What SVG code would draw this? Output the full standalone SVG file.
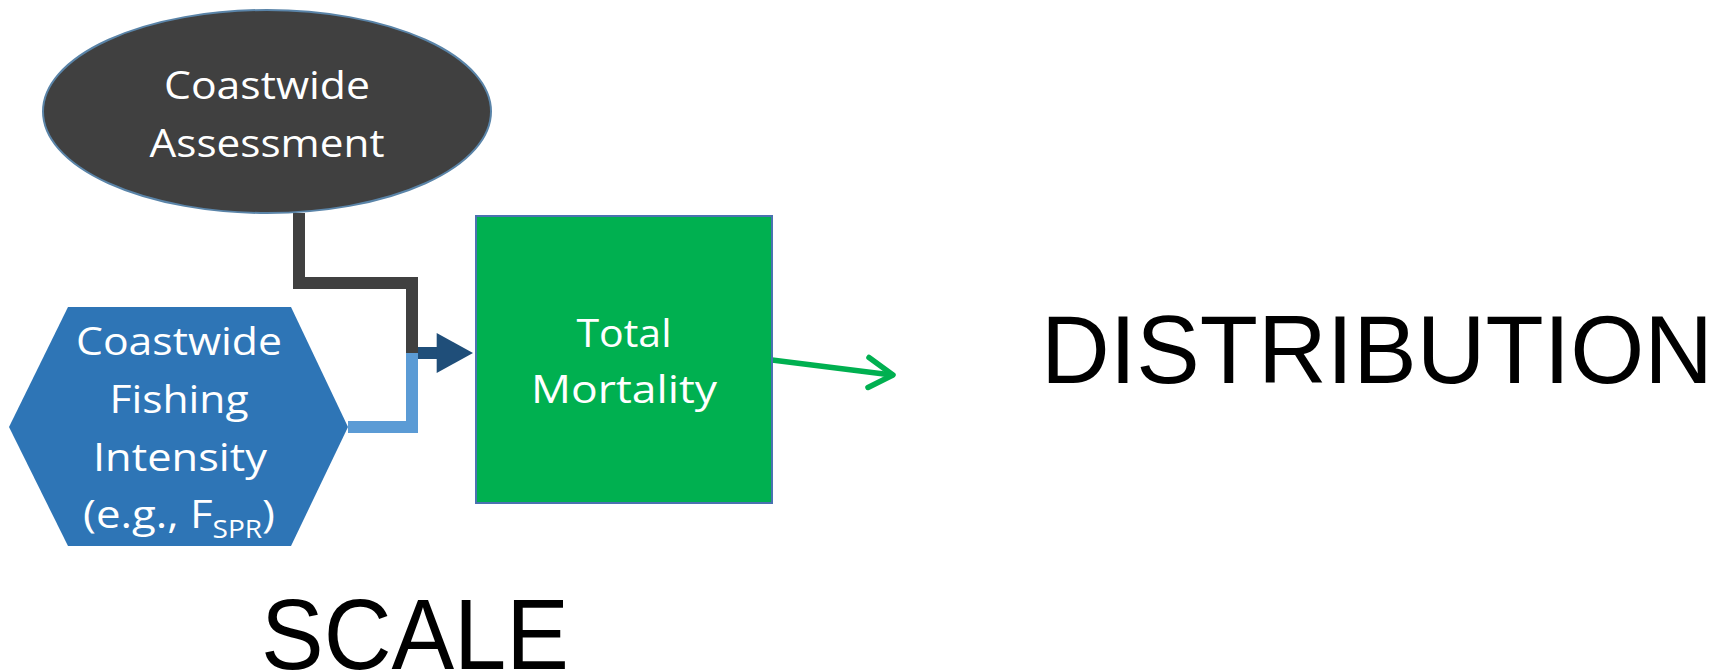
<svg xmlns="http://www.w3.org/2000/svg" width="1717" height="672" viewBox="0 0 1717 672">
<style>
.lbl{font-family:"Open Sans","Liberation Sans",sans-serif;font-size:39px;fill:#ffffff;text-anchor:middle}
.big{font-family:"Liberation Sans",Arial,sans-serif;fill:#000000}
</style>
<rect width="1717" height="672" fill="#ffffff"/>
<g id="connectors">
<path d="M299,213 V283 H412 V353" fill="none" stroke="#404040" stroke-width="12" stroke-linejoin="miter"/>
<path d="M348,427 H412 V353" fill="none" stroke="#5B9BD5" stroke-width="12" stroke-linejoin="miter"/>
<path d="M418,353 H440" fill="none" stroke="#1F4E79" stroke-width="12"/>
<polygon points="436.7,333 473,353 436.7,373" fill="#1F4E79"/>
<path d="M772,360 L892,375" fill="none" stroke="#00B050" stroke-width="5.5" stroke-linecap="round"/>
<polyline points="869,357.5 893,375 868,387.5" fill="none" stroke="#00B050" stroke-width="5.5" stroke-linecap="round" stroke-linejoin="round"/>
</g>
<g id="assessment">
<ellipse cx="267" cy="111.5" rx="224" ry="101.5" fill="#404040" stroke="#5A84A8" stroke-width="2"/>
<text class="lbl" x="267" y="99" textLength="206" lengthAdjust="spacingAndGlyphs">Coastwide</text>
<text class="lbl" x="267" y="157" textLength="235" lengthAdjust="spacingAndGlyphs">Assessment</text>
</g>
<g id="fishing">
<polygon points="68,307 291,307 348,427 291,546 68,546 9,427" fill="#2E75B6"/>
<text class="lbl" x="179" y="355" textLength="206" lengthAdjust="spacingAndGlyphs">Coastwide</text>
<text class="lbl" x="179" y="413" textLength="139" lengthAdjust="spacingAndGlyphs">Fishing</text>
<text class="lbl" x="180" y="471" textLength="174" lengthAdjust="spacingAndGlyphs">Intensity</text>
<text class="lbl" x="179" y="528" textLength="192" lengthAdjust="spacingAndGlyphs">(e.g., F<tspan font-size="25" dy="10">SPR</tspan><tspan dy="-10">)</tspan></text>
</g>
<g id="mortality">
<rect x="476" y="216" width="296" height="287" fill="#00B050" stroke="#4A72B0" stroke-width="2"/>
<text class="lbl" x="624" y="347" textLength="95" lengthAdjust="spacingAndGlyphs">Total</text>
<text class="lbl" x="624" y="403" textLength="186" lengthAdjust="spacingAndGlyphs">Mortality</text>
</g>
<g id="scale">
<text class="big" x="261" y="669" font-size="100" textLength="308" lengthAdjust="spacingAndGlyphs">SCALE</text>
</g>
<g id="distribution">
<text class="big" x="1041" y="383" font-size="97" textLength="672" lengthAdjust="spacingAndGlyphs">DISTRIBUTION</text>
</g>
</svg>
